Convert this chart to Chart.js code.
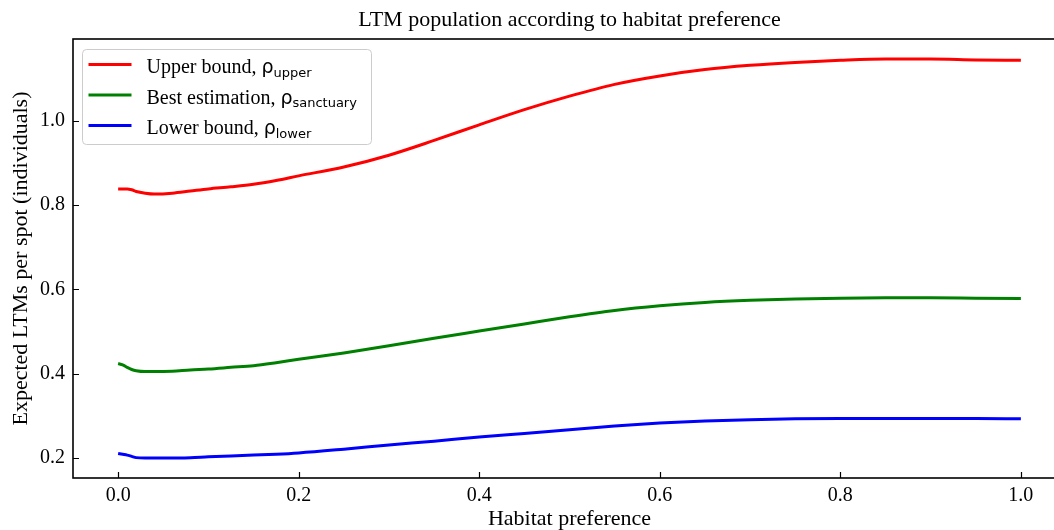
<!DOCTYPE html>
<html>
<head>
<meta charset="utf-8">
<script src="https://cdn.jsdelivr.net/npm/chart.js@4/dist/chart.umd.min.js"></script>
<style>
  html, body { margin: 0; padding: 0; overflow: hidden; background: #fff; }
  #wrap { width: 1066px; height: 530px; }
</style>
</head>
<body>
<div id="wrap"><canvas id="c" width="1066" height="530"></canvas></div>
<script>
// Habitat preference (x) and expected LTMs per spot for each estimate
const habitatPref = [0, 0.005, 0.01, 0.015, 0.02, 0.03, 0.04, 0.06, 0.08, 0.1, 0.125, 0.15, 0.175, 0.2,
  0.25, 0.3, 0.35, 0.4, 0.45, 0.5, 0.55, 0.6, 0.65, 0.7, 0.75, 0.8, 0.85, 0.9, 0.95, 1.0];
const upperBound = [0.838, 0.838, 0.838, 0.836, 0.832, 0.828, 0.826, 0.828, 0.833, 0.838, 0.843, 0.849, 0.858, 0.869,
  0.890, 0.918, 0.953, 0.990, 1.026, 1.058, 1.086, 1.106, 1.121, 1.131, 1.138, 1.143, 1.146, 1.146, 1.144, 1.143];
const bestEstimate = [0.424, 0.421, 0.415, 0.410, 0.407, 0.405, 0.405, 0.406, 0.409, 0.411, 0.415, 0.419, 0.426, 0.434,
  0.449, 0.466, 0.484, 0.501, 0.518, 0.535, 0.550, 0.561, 0.569, 0.574, 0.577, 0.579, 0.580, 0.580, 0.579, 0.578];
const lowerBound = [0.211, 0.209, 0.207, 0.204, 0.201, 0.200, 0.200, 0.200, 0.201, 0.203, 0.205, 0.207, 0.209, 0.212,
  0.221, 0.231, 0.240, 0.250, 0.258, 0.267, 0.276, 0.283, 0.288, 0.291, 0.293, 0.294, 0.294, 0.294, 0.294, 0.293];

const xTicks = [0.0, 0.2, 0.4, 0.6, 0.8, 1.0];
const yTicks = [0.2, 0.4, 0.6, 0.8, 1.0];

// Legend labels: plain text part, then the subscript of rho
const seriesText = ['Upper bound, ', 'Best estimation, ', 'Lower bound, '];
const seriesSub = ['upper', 'sanctuary', 'lower'];
const seriesColors = ['#ff0000', '#008000', '#0000ff'];
const seriesValues = [upperBound, bestEstimate, lowerBound];

const SERIF = '"Liberation Serif", "Times New Roman", serif';
const SANS = '"DejaVu Sans", sans-serif';

const toPoints = ys => habitatPref.map((x, i) => ({ x: x, y: ys[i] }));

// Box frame with inward tick marks
const axesFrame = {
  id: 'axesFrame',
  afterDraw(chart) {
    const { ctx, chartArea: a } = chart;
    const xs = chart.scales.x, ys = chart.scales.y;
    ctx.save();
    ctx.strokeStyle = '#000';
    ctx.lineWidth = 1.2;
    ctx.beginPath();
    xTicks.forEach(v => {
      const px = Math.round(xs.getPixelForValue(v)) + 0.5;
      ctx.moveTo(px, a.bottom); ctx.lineTo(px, a.bottom - 6);
    });
    yTicks.forEach(v => {
      const py = Math.round(ys.getPixelForValue(v)) + 0.5;
      ctx.moveTo(a.left, py); ctx.lineTo(a.left + 6, py);
    });
    ctx.stroke();
    ctx.lineWidth = 1.6;
    ctx.strokeRect(a.left, a.top, a.right - a.left, a.bottom - a.top);
    ctx.restore();
  }
};

// Legend with rho and subscripted names
const rhoLegend = {
  id: 'rhoLegend',
  afterDraw(chart) {
    const { ctx, chartArea: a } = chart;
    const bx = a.left + 9.5, by = a.top + 10.5;
    const textX = bx + 64;
    ctx.save();
    // measure the widest entry
    let maxEnd = 0;
    seriesText.forEach((t, i) => {
      ctx.font = '20px ' + SERIF;
      let w = ctx.measureText(t).width;
      ctx.font = '19px ' + SANS;
      w += ctx.measureText('ρ').width;
      ctx.font = '13px ' + SANS;
      w += ctx.measureText(seriesSub[i]).width;
      maxEnd = Math.max(maxEnd, textX + w);
    });
    const bw = Math.max(289, maxEnd + 10 - bx), bh = 95;
    ctx.beginPath();
    ctx.roundRect(bx, by, bw, bh, 4);
    ctx.fillStyle = 'rgba(255,255,255,0.8)';
    ctx.fill();
    ctx.strokeStyle = '#cccccc';
    ctx.lineWidth = 1;
    ctx.stroke();

    const rows = [15, 45.5, 76];
    rows.forEach((dy, i) => {
      const y = by + dy;
      ctx.strokeStyle = seriesColors[i];
      ctx.lineWidth = 3;
      ctx.beginPath();
      ctx.moveTo(bx + 6, y); ctx.lineTo(bx + 49, y);
      ctx.stroke();

      const base = y + 8.5;
      let x = textX;
      ctx.fillStyle = '#000';
      ctx.textBaseline = 'alphabetic';
      ctx.textAlign = 'left';
      ctx.font = '20px ' + SERIF;
      ctx.fillText(seriesText[i], x, base);
      x += ctx.measureText(seriesText[i]).width;
      ctx.font = '19px ' + SANS;
      ctx.fillText('ρ', x, base);
      x += ctx.measureText('ρ').width;
      ctx.font = '13px ' + SANS;
      ctx.fillText(seriesSub[i], x, base + 3.5);
    });
    ctx.restore();
  }
};

Chart.defaults.color = '#000';
Chart.defaults.font.family = SERIF;

new Chart(document.getElementById('c'), {
  type: 'line',
  data: {
    datasets: seriesValues.map((vals, i) => ({
      label: seriesText[i] + 'ρ' + seriesSub[i],
      data: toPoints(vals),
      borderColor: seriesColors[i],
      backgroundColor: seriesColors[i],
      borderWidth: 3,
      pointRadius: 0,
      fill: false,
      cubicInterpolationMode: 'monotone'
    }))
  },
  options: {
    responsive: false,
    animation: false,
    layout: { padding: 0 },
    plugins: {
      legend: { display: false },
      tooltip: { enabled: false },
      title: {
        display: true,
        text: 'LTM population according to habitat preference',
        fullSize: false,
        font: { size: 22, family: SERIF, weight: 'normal' },
        color: '#000',
        padding: { top: 7, bottom: 5.6 }
      }
    },
    scales: {
      x: {
        type: 'linear',
        min: -0.05,
        max: 1.05,
        afterBuildTicks: s => { s.ticks = xTicks.map(v => ({ value: v })); },
        afterFit: s => { s.height = 52; },
        grid: { display: false, drawTicks: false },
        border: { display: false },
        ticks: {
          padding: 6,
          font: { size: 20, family: SERIF },
          color: '#000',
          maxRotation: 0,
          callback: v => v.toFixed(1)
        },
        title: {
          display: true,
          text: 'Habitat preference',
          font: { size: 22, family: SERIF },
          color: '#000',
          padding: { top: 0, bottom: -2 }
        }
      },
      y: {
        type: 'linear',
        min: 0.1527,
        max: 1.1935,
        afterBuildTicks: s => { s.ticks = yTicks.map(v => ({ value: v })); },
        afterFit: s => { s.width = 73; },
        grid: { display: false, drawTicks: false },
        border: { display: false },
        ticks: {
          padding: 8,
          font: { size: 20, family: SERIF },
          color: '#000',
          callback: v => v.toFixed(1)
        },
        title: {
          display: true,
          text: 'Expected LTMs per spot (individuals)',
          font: { size: 22, family: SERIF },
          color: '#000',
          padding: { top: 8, bottom: 0 }
        }
      }
    }
  },
  plugins: [axesFrame, rhoLegend]
});
</script>
</body>
</html>
